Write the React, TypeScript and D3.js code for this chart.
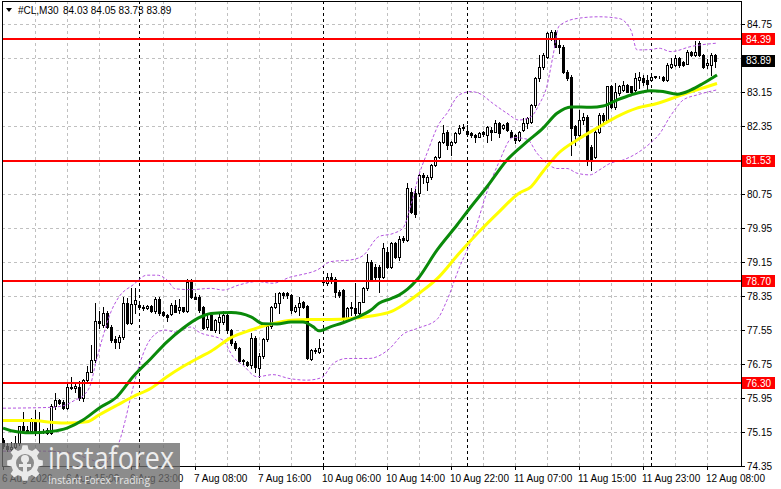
import * as d3 from 'd3';
import React from 'react';

const W = 781;
const H = 489;

// #CL M30 bars, [open, high, low, close]
const candles: [number, number, number, number][] = [
  [74.95, 75.0, 74.78, 74.82], [74.82, 74.9, 74.7, 74.75], [74.75, 74.92, 74.68, 74.8], [74.8, 75.05, 74.72, 74.9],
  [74.9, 75.3, 74.85, 75.28], [75.28, 75.63, 75.15, 75.2], [75.2, 75.28, 75.12, 75.17], [75.17, 75.47, 75.12, 75.43],
  [75.43, 75.67, 75.08, 75.12], [75.12, 75.62, 74.88, 75.18], [75.18, 75.22, 75.12, 75.16], [75.2, 75.24, 75.1, 75.13],
  [75.13, 75.8, 75.1, 75.75], [75.75, 76.06, 75.7, 75.9], [75.9, 75.92, 75.8, 75.84], [75.86, 75.9, 75.68, 75.71],
  [75.71, 76.3, 75.68, 76.22], [76.22, 76.45, 76.15, 76.18], [76.18, 76.28, 76.1, 76.24], [76.22, 76.35, 75.9, 75.94],
  [75.94, 76.4, 75.88, 76.37], [76.37, 76.7, 76.3, 76.57], [76.57, 77.2, 76.55, 76.84], [76.84, 78.18, 76.8, 77.75],
  [77.75, 77.99, 77.6, 77.71], [77.67, 78.1, 77.62, 77.94], [77.94, 78.0, 77.6, 77.63], [77.63, 77.66, 77.27, 77.31],
  [77.35, 77.4, 77.12, 77.27], [77.27, 77.43, 77.12, 77.39], [77.39, 78.33, 77.35, 78.18], [78.18, 78.3, 77.68, 77.72],
  [77.72, 78.53, 77.68, 78.15], [78.15, 78.53, 77.95, 78.26], [78.14, 78.2, 78.06, 78.1], [78.1, 78.14, 78.02, 78.06],
  [78.06, 78.14, 78.04, 78.12], [78.12, 78.14, 77.98, 78.0], [78.0, 78.33, 77.94, 78.29], [78.29, 78.33, 77.9, 77.94],
  [77.98, 78.0, 77.88, 77.9], [77.9, 77.92, 77.75, 77.86], [77.92, 78.18, 77.9, 78.14], [78.14, 78.26, 77.98, 77.98],
  [78.02, 78.29, 77.94, 78.1], [78.08, 78.1, 77.98, 78.0], [78.0, 78.76, 77.98, 78.69], [78.69, 78.76, 78.3, 78.33],
  [78.33, 78.41, 78.27, 78.29], [78.33, 78.37, 77.98, 78.02], [78.1, 78.12, 77.58, 77.6], [77.63, 77.9, 77.58, 77.82],
  [77.9, 77.92, 77.55, 77.55], [77.55, 77.82, 77.5, 77.78], [77.74, 77.98, 77.48, 77.86], [77.74, 78.0, 77.7, 77.9],
  [77.9, 77.94, 77.47, 77.55], [77.55, 77.58, 77.2, 77.25], [77.25, 77.28, 77.08, 77.12], [77.12, 77.14, 76.8, 76.83],
  [76.83, 76.86, 76.76, 76.84], [76.8, 76.82, 76.7, 76.72], [76.72, 77.47, 76.65, 77.37], [77.37, 77.4, 76.57, 76.67],
  [76.65, 77.0, 76.45, 76.93], [76.93, 77.36, 76.9, 77.33], [77.33, 77.66, 77.3, 77.64], [77.64, 78.12, 77.6, 78.1],
  [78.1, 78.41, 78.06, 78.19], [78.18, 78.45, 77.94, 78.41], [78.41, 78.44, 78.3, 78.37], [78.41, 78.45, 78.3, 78.37],
  [78.37, 78.4, 77.94, 78.02], [78.0, 78.14, 77.98, 78.1], [78.1, 78.33, 77.9, 78.18], [78.21, 78.24, 78.06, 78.1],
  [78.11, 78.14, 76.86, 76.88], [76.86, 77.1, 76.84, 77.08], [77.06, 77.12, 77.0, 77.09], [77.04, 77.35, 77.02, 77.12],
  [78.68, 78.78, 78.6, 78.72], [78.65, 78.88, 78.6, 78.8], [78.8, 78.88, 78.65, 78.76], [78.76, 78.8, 78.33, 78.45],
  [78.45, 78.5, 78.33, 78.37], [78.49, 78.52, 77.78, 77.82], [77.82, 78.08, 77.78, 78.06], [78.06, 78.2, 77.9, 78.1],
  [78.06, 78.65, 77.9, 77.94], [77.94, 78.21, 77.9, 78.2], [78.22, 78.55, 78.2, 78.53], [78.53, 79.35, 78.5, 79.16],
  [79.16, 79.2, 78.7, 78.73], [79.04, 79.1, 78.75, 78.8], [79.04, 79.08, 78.45, 78.8], [78.8, 79.59, 78.78, 79.47],
  [79.39, 79.5, 79.0, 79.04], [79.04, 79.62, 79.0, 79.59], [79.59, 79.62, 79.25, 79.27], [79.27, 79.75, 79.2, 79.7],
  [79.72, 79.76, 79.62, 79.66], [79.66, 81.0, 79.64, 80.88], [80.8, 80.88, 80.3, 80.33], [80.77, 80.86, 80.22, 80.29],
  [80.77, 81.22, 80.7, 81.2], [81.2, 81.24, 81.0, 81.16], [81.04, 81.2, 80.84, 81.16], [81.16, 81.45, 81.1, 81.43],
  [81.43, 81.65, 81.4, 81.63], [81.63, 82.0, 81.6, 81.98], [81.98, 82.37, 81.95, 82.18], [82.22, 82.25, 81.82, 81.9],
  [81.9, 82.0, 81.67, 81.98], [81.98, 82.2, 81.96, 82.18], [82.18, 82.37, 82.15, 82.3], [82.3, 82.4, 82.26, 82.33],
  [82.24, 82.37, 82.12, 82.16], [82.19, 82.2, 82.1, 82.14], [82.14, 82.16, 81.98, 82.1], [82.1, 82.2, 82.08, 82.18],
  [82.22, 82.24, 82.12, 82.16], [82.14, 82.36, 81.98, 82.33], [82.26, 82.33, 82.02, 82.22], [82.22, 82.49, 82.2, 82.41],
  [82.41, 82.45, 82.1, 82.18], [82.3, 82.4, 82.28, 82.37], [82.41, 82.45, 82.24, 82.26], [82.22, 82.26, 82.08, 82.1],
  [82.14, 82.16, 81.94, 82.02], [82.02, 82.24, 82.0, 82.22], [82.26, 82.53, 82.24, 82.41], [82.41, 82.57, 82.3, 82.53],
  [82.45, 82.86, 82.42, 82.84], [82.84, 83.5, 82.8, 83.47], [83.47, 84.02, 83.4, 83.75], [83.75, 84.06, 83.7, 84.02],
  [83.98, 84.57, 83.95, 84.53], [84.41, 84.61, 84.38, 84.57], [84.57, 84.61, 84.2, 84.22], [84.26, 84.41, 84.06, 84.22],
  [84.22, 84.25, 83.6, 83.63], [83.63, 83.66, 83.43, 83.47], [83.51, 83.55, 81.67, 82.3], [82.34, 82.38, 81.9, 82.14],
  [82.14, 82.73, 82.1, 82.49], [82.49, 82.65, 82.4, 82.57], [82.57, 82.62, 81.43, 81.55], [81.86, 81.9, 81.31, 81.55],
  [81.63, 82.26, 81.6, 82.22], [82.22, 82.65, 82.18, 82.61], [82.61, 82.66, 82.4, 82.5], [82.5, 83.3, 82.45, 83.28],
  [83.28, 83.32, 82.78, 82.8], [82.8, 83.36, 82.76, 83.16], [83.12, 83.32, 83.08, 83.28], [83.2, 83.4, 83.18, 83.32],
  [83.32, 83.35, 83.14, 83.16], [83.28, 83.3, 83.08, 83.16], [83.2, 83.59, 83.18, 83.47], [83.43, 83.63, 83.24, 83.51],
  [83.47, 83.55, 83.31, 83.39], [83.43, 83.55, 83.2, 83.35], [83.43, 83.55, 83.4, 83.51], [83.51, 83.53, 83.49, 83.52],
  [83.51, 83.53, 83.48, 83.5], [83.51, 83.53, 83.4, 83.43], [83.43, 83.83, 83.4, 83.79], [83.75, 83.94, 83.71, 83.82],
  [83.79, 84.02, 83.76, 83.94], [83.94, 83.97, 83.75, 83.79], [83.86, 83.88, 83.77, 83.79], [83.82, 84.14, 83.8, 84.1],
  [84.1, 84.12, 84.0, 84.02], [84.02, 84.34, 84.0, 84.1], [84.3, 84.34, 84.0, 84.02], [84.02, 84.05, 83.71, 83.75],
  [83.79, 83.92, 83.71, 83.83], [83.79, 84.06, 83.55, 84.02], [84.03, 84.05, 83.73, 83.89],
];

// moving averages and envelope, [bar index, price]
const maGreen: [number, number][] = [
  [0, 75.24], [2, 75.18], [4, 75.15], [7, 75.13], [12, 75.16], [16, 75.24], [20, 75.43], [24, 75.71],
  [28.5, 75.98], [32.5, 76.45], [37, 76.88], [41, 77.27], [45, 77.59], [49, 77.84], [52, 77.94], [57, 77.96],
  [62, 77.86], [65, 77.7], [68.5, 77.69], [72, 77.74], [75, 77.74], [77.5, 77.63], [79, 77.53], [82, 77.63],
  [85, 77.72], [88.5, 77.85], [92, 78.02], [94, 78.18], [97, 78.29], [99, 78.37], [103.5, 78.73], [108.5, 79.43],
  [113.5, 80.02], [117, 80.45], [121, 80.92], [126, 81.55], [131, 81.98], [135, 82.3], [138.5, 82.65], [142, 82.8],
  [147, 82.79], [150, 82.82], [153.5, 82.96], [157, 83.08], [162, 83.18], [165, 83.16], [168.5, 83.1], [172, 83.2],
  [175, 83.35], [178.5, 83.55],
];
const maYellow: [number, number][] = [
  [0, 75.42], [7.5, 75.42], [12, 75.38], [16, 75.36], [21, 75.39], [24, 75.55], [28.5, 75.78], [32.5, 75.98],
  [37, 76.18], [41, 76.45], [45, 76.69], [49, 76.9], [52, 77.05], [57, 77.37], [62, 77.55], [67, 77.69],
  [72, 77.78], [77, 77.8], [82, 77.8], [87, 77.82], [92, 77.88], [97, 77.98], [99, 78.08], [104, 78.41],
  [109, 78.8], [114, 79.35], [119, 79.86], [124, 80.33], [129, 80.77], [132, 80.92], [135, 81.28], [139, 81.72],
  [143.5, 82.02], [148.5, 82.3], [153.5, 82.57], [158.5, 82.77], [163.5, 82.88], [168.5, 83.04], [173.5, 83.2],
  [178.5, 83.35],
];
const bandUpper: [number, number][] = [
  [0, 75.71], [12, 75.73], [15.5, 75.78], [18, 75.9], [20, 76.0], [22, 76.3], [23, 76.7], [25, 77.4],
  [27, 77.98], [29, 78.33], [32.5, 78.61], [36, 78.84], [38.5, 78.84], [41, 78.73], [43, 78.52], [47, 78.5],
  [52, 78.53], [55, 78.49], [59, 78.61], [63.5, 78.69], [67.5, 78.65], [72, 78.8], [74, 78.84], [78.5, 78.96],
  [82, 79.16], [87, 79.2], [90, 79.3], [94, 79.75], [97.5, 79.82], [100, 79.95], [102, 80.5], [104, 81.2],
  [106, 81.71], [109, 82.4], [111, 82.65], [114, 83.08], [117, 83.16], [119, 83.12], [122.5, 82.88], [126, 82.65],
  [129, 82.49], [132, 82.57], [134, 82.85], [136, 83.3], [137.5, 84.0], [139, 84.7], [143.5, 84.88], [149, 84.92],
  [154, 84.88], [157, 84.6], [158.5, 84.14], [162, 84.15], [164, 84.18], [167, 84.1], [172, 84.22], [178.5, 84.3],
];
const bandLower: [number, number][] = [
  [0, 74.7], [10, 74.7], [17, 74.65], [22, 74.5], [25.5, 74.4], [27, 74.6], [29, 74.9], [30.5, 75.4],
  [32, 76.0], [34, 76.7], [36, 77.2], [38, 77.45], [40.5, 77.55], [43, 77.5], [47, 77.62], [49, 77.5],
  [55, 77.31], [57.5, 76.92], [60, 76.72], [63.5, 76.45], [67.5, 76.5], [71.5, 76.41], [76, 76.37], [79, 76.41],
  [80, 76.45], [82.5, 76.76], [86, 76.88], [91.5, 76.88], [96.5, 77.1], [100, 77.45], [104, 77.6], [108.5, 77.8],
  [111, 78.25], [114, 79.0], [117.5, 79.75], [121, 80.8], [124, 81.5], [127.5, 82.08], [131, 82.04], [133.5, 81.71],
  [136, 81.47], [138.5, 81.35], [141, 81.35], [143.5, 81.24], [146.75, 81.2], [149, 81.31], [151.75, 81.47],
  [155, 81.55], [158.5, 81.71], [161.75, 81.94], [164.25, 82.18], [166.75, 82.57], [168.5, 82.8], [170, 82.96],
  [173.5, 83.08], [178.5, 83.2],
];

const levels = [84.39, 81.53, 78.7, 76.3];
const lastPrice = 83.89;
const priceTicks = [84.75, 83.95, 83.15, 82.35, 81.55, 80.75, 79.95, 79.15, 78.35, 77.55, 76.75, 75.95, 75.15, 74.35];
const hiddenTickLabels = [83.95, 81.55];
const timeLabels: [number, string][] = [
  [0, '6 Aug 2026'], [16, '6 Aug 15:00'], [32, '6 Aug 23:00'], [48, '7 Aug 08:00'],
  [64, '7 Aug 16:00'], [80, '10 Aug 06:00'], [96, '10 Aug 14:00'], [112, '10 Aug 22:00'],
  [128, '11 Aug 07:00'], [144, '11 Aug 15:00'], [160, '11 Aug 23:00'], [176, '12 Aug 08:00'],
];
const gridBars = [8, 16, 24, 40, 48, 56, 64, 72, 88, 96, 104, 112, 120, 128, 136, 144, 152, 160, 168, 176];
const separatorBars = [34, 80, 116, 162];
const symbol = '#CL,M30';
const ohlcText = '84.03 84.05 83.73 83.89';

const FONT = '"Liberation Sans", Arial, sans-serif';

export default function App() {
  const left = 2;
  const right = 741;
  const top = 1;
  const bottom = 466;

  const x = d3.scaleLinear().domain([0, 178]).range([3, 715]);
  const y = d3.scaleLinear().domain([74.35, 84.75]).range([466, 24]);
  const py = (p: number) => Math.round(y(p)) + 0.5;

  const line = d3
    .line<[number, number]>()
    .x(d => x(d[0]))
    .y(d => y(d[1]))
    .curve(d3.curveMonotoneX);

  // gear for the watermark
  const gear = (() => {
    const cx = 25, cy = 463, n = 8, ro = 18, ri = 14;
    const pts: string[] = [];
    for (let k = 0; k < n; k++) {
      const a0 = (k / n) * Math.PI * 2;
      const step = (Math.PI * 2) / n;
      const angs = [a0 - step * 0.18, a0 + step * 0.18, a0 + step * 0.32, a0 + step * 0.68];
      const rads = [ro, ro, ri, ri];
      angs.forEach((a, j) => pts.push(`${cx + rads[j] * Math.cos(a)},${cy + rads[j] * Math.sin(a)}`));
    }
    return 'M' + pts.join('L') + 'Z';
  })();

  return (
    <svg
      width={W}
      height={H}
      style={{ position: 'absolute', left: 0, top: 0, background: '#fff' }}
      fontFamily={FONT}
    >
      <rect width={W} height={H} fill="#fff" />

      {/* grid */}
      <g stroke="#c0c0c0" strokeDasharray="3,3" shapeRendering="crispEdges">
        {priceTicks.map(p => (
          <line key={'h' + p} x1={left} x2={right} y1={py(p)} y2={py(p)} />
        ))}
        {gridBars.map(i => (
          <line key={'v' + i} x1={x(i) + 0.5} x2={x(i) + 0.5} y1={top} y2={bottom} />
        ))}
      </g>
      <g stroke="#000" strokeDasharray="3,3" shapeRendering="crispEdges">
        {separatorBars.map(i => (
          <line key={'s' + i} x1={x(i) + 0.5} x2={x(i) + 0.5} y1={top} y2={bottom} />
        ))}
      </g>

      {/* candles */}
      <g shapeRendering="crispEdges">
        {candles.map(([o, h, l, c], i) => {
          const cx = x(i);
          const yt = Math.round(y(Math.max(o, c)));
          const yb = Math.round(y(Math.min(o, c)));
          const bull = c >= o;
          return (
            <g key={i}>
              <line x1={cx + 0.5} x2={cx + 0.5} y1={Math.round(y(h))} y2={Math.round(y(l)) + 1} stroke="#000" />
              <rect
                x={cx - 0.5}
                y={yt + 0.5}
                width={2}
                height={Math.max(0, yb - yt)}
                fill={bull ? '#fff' : '#000'}
                stroke="#000"
              />
            </g>
          );
        })}
      </g>

      {/* envelope */}
      <g fill="none" stroke="#b455e0" strokeWidth={1} strokeDasharray="3,2">
        <path d={line(bandUpper) ?? ''} />
        <path d={line(bandLower) ?? ''} />
      </g>

      {/* moving averages */}
      <path d={line(maYellow) ?? ''} fill="none" stroke="#ffff00" strokeWidth={3} />
      <path d={line(maGreen) ?? ''} fill="none" stroke="#0a8a0a" strokeWidth={3} />

      {/* levels */}
      <g stroke="#ff0000" strokeWidth={2}>
        {levels.map(p => (
          <line key={'l' + p} x1={left} x2={right} y1={Math.round(y(p))} y2={Math.round(y(p))} />
        ))}
      </g>

      {/* frame */}
      <rect
        x={left + 0.5}
        y={top + 0.5}
        width={right - left}
        height={bottom - top}
        fill="none"
        stroke="#000"
        shapeRendering="crispEdges"
      />

      {/* price axis */}
      <g fontSize={10} fill="#000">
        {priceTicks.map(p => (
          <g key={'t' + p}>
            <line x1={right} x2={right + 4} y1={py(p)} y2={py(p)} stroke="#000" shapeRendering="crispEdges" />
            {!hiddenTickLabels.includes(p) && (
              <text x={right + 6} y={y(p)} dy="0.35em">
                {p.toFixed(2)}
              </text>
            )}
          </g>
        ))}
        {levels.map(p => (
          <g key={'lb' + p}>
            <rect x={right + 1} y={Math.round(y(p)) - 6} width={33} height={12} fill="#ff0000" />
            <text x={right + 5} y={y(p)} dy="0.35em" fill="#fff">
              {p.toFixed(2)}
            </text>
          </g>
        ))}
        <rect x={right + 1} y={Math.round(y(lastPrice)) - 6} width={33} height={12} fill="#000" />
        <text x={right + 5} y={y(lastPrice)} dy="0.35em" fill="#fff">
          {lastPrice.toFixed(2)}
        </text>
      </g>

      {/* time axis */}
      <g fontSize={10} fill="#000">
        {timeLabels.map(([i, t]) => (
          <g key={'x' + i}>
            <line x1={x(i) + 0.5} x2={x(i) + 0.5} y1={bottom} y2={bottom + 4} stroke="#000" shapeRendering="crispEdges" />
            <text x={x(i) - 1} y={482}>
              {t}
            </text>
          </g>
        ))}
      </g>

      {/* header */}
      <path d="M6,8 L12,8 L9,12 Z" fill="#000" />
      <text x={18} y={14} fontSize={10}>
        {symbol}
      </text>
      <text x={63} y={14} fontSize={10}>
        {ohlcText}
      </text>

      {/* watermark */}
      <g>
        <rect x={0} y={443} width={180} height={46} fill="#6c6c6c" opacity={0.78} />
        <path d={gear} fill="#eaeaea" />
        <circle cx={25} cy={463} r={9} fill="#8c8c8c" />
        <circle cx={25} cy={459} r={4} fill="#eaeaea" />
        <rect x={23} y={462} width={4} height={12} fill="#eaeaea" />
        <rect x={19} y={464} width={12} height={3} fill="#eaeaea" />
        <text
          x={48}
          y={469}
          fontSize={31}
          fontFamily='"Open Sans", sans-serif'
          fill="#eeeeee"
          textLength={126}
          lengthAdjust="spacingAndGlyphs"
        >
          instaforex
        </text>
        <text
          x={48}
          y={484}
          fontSize={11}
          fontFamily='"Open Sans", sans-serif'
          fill="#e6e6e6"
          textLength={102}
          lengthAdjust="spacingAndGlyphs"
        >
          Instant Forex Trading
        </text>
      </g>
    </svg>
  );
}
